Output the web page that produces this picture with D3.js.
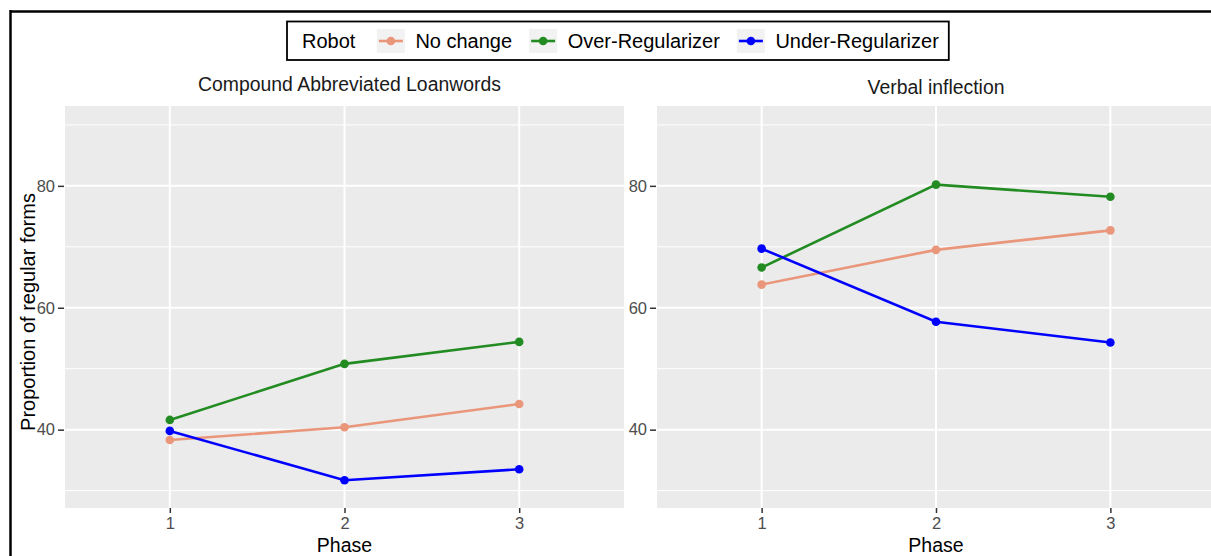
<!DOCTYPE html>
<html><head><meta charset="utf-8">
<script src="https://cdn.jsdelivr.net/npm/d3@7"></script>
<style>
html,body{margin:0;padding:0;background:#fff;}
svg{display:block;font-family:"Liberation Sans",Arial,sans-serif;}
</style></head>
<body>
<svg id="chart" width="1211" height="556"></svg>
<script>
// ---- data ----
const phases = ["1", "2", "3"];
const robots = ["No change", "Over-Regularizer", "Under-Regularizer"];
const robotColors = ["#E9967A", "#228B22", "#0000FF"];
const panelTitles = ["Compound Abbreviated Loanwords", "Verbal inflection"];
const yTicks = [40, 60, 80];
const yMinor = [30, 50, 70, 90];
// Compound Abbreviated Loanwords
const compoundNoChange = [38.3, 40.4, 44.2];
const compoundOver = [41.6, 50.8, 54.4];
const compoundUnder = [39.8, 31.7, 33.5];
// Verbal inflection
const verbalNoChange = [63.8, 69.5, 72.7];
const verbalOver = [66.6, 80.2, 78.2];
const verbalUnder = [69.7, 57.7, 54.3];

const panelsData = [
  [compoundNoChange, compoundOver, compoundUnder],
  [verbalNoChange, verbalOver, verbalUnder]
];

const svg = d3.select("#chart");
const FONT = '"Liberation Sans",Arial,sans-serif';

// screenshot frame lines
svg.append("line").attr("x1", 10).attr("x2", 1211).attr("y1", 11.5).attr("y2", 11.5)
  .attr("stroke", "#000").attr("stroke-width", 2.5);
svg.append("line").attr("x1", 10.5).attr("x2", 10.5).attr("y1", 10).attr("y2", 556)
  .attr("stroke", "#000").attr("stroke-width", 2.5);

const panels = [
  {x0: 65, x1: 624, titleY: 91, titleShift: 5},
  {x0: 657, x1: 1215, titleY: 94, titleShift: 0}
];
const yTop = 106, yBot = 508;
const y = d3.scaleLinear().domain([27.15, 93.1]).range([yBot, yTop]);

panels.forEach((p, pi) => {
  const x = d3.scalePoint().domain(phases).range([p.x0, p.x1]).padding(0.6);
  const g = svg.append("g");
  g.append("rect").attr("x", p.x0).attr("y", yTop).attr("width", p.x1 - p.x0)
    .attr("height", yBot - yTop).attr("fill", "#EBEBEB");
  // minor grid
  g.selectAll(".ymin").data(yMinor).join("line")
    .attr("x1", p.x0).attr("x2", p.x1)
    .attr("y1", d => y(d)).attr("y2", d => y(d))
    .attr("stroke", "#fff").attr("stroke-width", 1);
  // major grid
  g.selectAll(".ymaj").data(yTicks).join("line")
    .attr("x1", p.x0).attr("x2", p.x1)
    .attr("y1", d => y(d)).attr("y2", d => y(d))
    .attr("stroke", "#fff").attr("stroke-width", 2);
  g.selectAll(".xmaj").data(phases).join("line")
    .attr("x1", d => x(d)).attr("x2", d => x(d))
    .attr("y1", yTop).attr("y2", yBot)
    .attr("stroke", "#fff").attr("stroke-width", 2);

  // axes
  const xAxis = d3.axisBottom(x).tickSize(5).tickPadding(4);
  const xg = g.append("g").attr("transform", `translate(0,${yBot})`).call(xAxis);
  xg.select(".domain").remove();
  xg.selectAll(".tick line").attr("stroke", "#333").attr("stroke-width", 1.5);
  xg.selectAll(".tick text").attr("fill", "#4D4D4D").style("font-size", "16.5px").style("font-family", FONT);

  const yAxis = d3.axisLeft(y).tickValues(yTicks).tickSize(6).tickPadding(3);
  const yg = g.append("g").attr("transform", `translate(${p.x0 - 1},0)`).call(yAxis);
  yg.select(".domain").remove();
  yg.selectAll(".tick line").attr("stroke", "#333").attr("stroke-width", 1.5);
  yg.selectAll(".tick text").attr("fill", "#4D4D4D").style("font-size", "16.5px").style("font-family", FONT);

  // panel title
  g.append("text").attr("x", (p.x0 + p.x1) / 2 + p.titleShift).attr("y", p.titleY)
    .attr("text-anchor", "middle").attr("fill", "#1A1A1A")
    .style("font-size", "19.4px").text(panelTitles[pi]);

  // x title
  g.append("text").attr("x", (p.x0 + p.x1) / 2).attr("y", 552)
    .attr("text-anchor", "middle").attr("fill", "#000")
    .style("font-size", "19.5px").text("Phase");

  // series
  const line = d3.line().x((d, i) => x(phases[i])).y(d => y(d));
  panelsData[pi].forEach((vals, si) => {
    g.append("path").datum(vals).attr("d", line).attr("fill", "none")
      .attr("stroke", robotColors[si]).attr("stroke-width", 2.6);
    g.selectAll(".pt" + si).data(vals).join("circle")
      .attr("cx", (d, i) => x(phases[i])).attr("cy", d => y(d)).attr("r", 4.3)
      .attr("fill", robotColors[si]);
  });
});

// y title
svg.append("text").attr("transform", `translate(35,312) rotate(-90)`)
  .attr("text-anchor", "middle").attr("fill", "#000")
  .style("font-size", "20px").text("Proportion of regular forms");

// legend
const lg = svg.append("g");
const box = lg.append("rect").attr("x", 287).attr("y", 21.5).attr("height", 38.5)
  .attr("fill", "#fff").attr("stroke", "#000").attr("stroke-width", 1.8);
let cx = 302;
const baseY = 47.5;
const title = lg.append("text").attr("x", cx).attr("y", baseY).attr("fill", "#000")
  .style("font-size", "20px").text("Robot");
cx += title.node().getComputedTextLength() + 21.5;
robots.forEach((r, i) => {
  lg.append("rect").attr("x", cx).attr("y", 29).attr("width", 28).attr("height", 24)
    .attr("fill", "#F2F2F2");
  lg.append("line").attr("x1", cx + 2).attr("x2", cx + 26).attr("y1", 41).attr("y2", 41)
    .attr("stroke", robotColors[i]).attr("stroke-width", 2.6);
  lg.append("circle").attr("cx", cx + 14).attr("cy", 41).attr("r", 4.3).attr("fill", robotColors[i]);
  cx += 28 + 10.5;
  const t = lg.append("text").attr("x", cx).attr("y", baseY).attr("fill", "#000")
    .style("font-size", "20px").text(r);
  cx += t.node().getComputedTextLength() + (i < robots.length - 1 ? 17 : 10);
});
box.attr("width", cx - 287);
</script>
</body></html>
